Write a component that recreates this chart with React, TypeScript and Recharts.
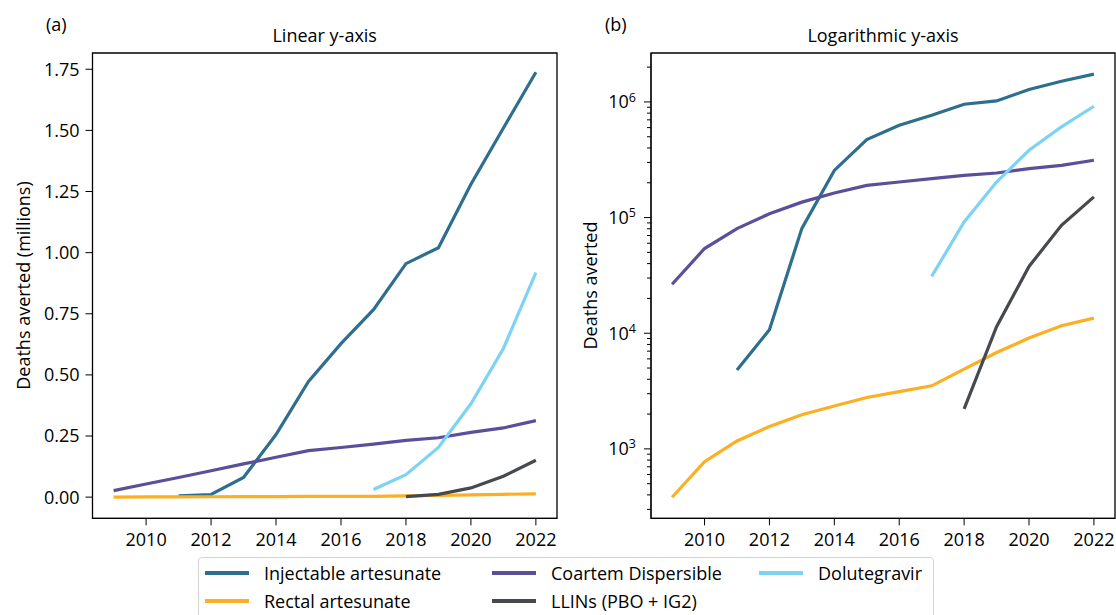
import React from "react";
import { LineChart, Line, XAxis, YAxis, ReferenceArea } from "recharts";

const years = [2009, 2010, 2011, 2012, 2013, 2014, 2015, 2016, 2017, 2018, 2019, 2020, 2021, 2022];

// deaths averted per year
const injectableArtesunate = [null, null, 4820, 10700, 80700, 256000, 473000, 628000, 767000, 955000, 1020000, 1280000, 1510000, 1738000];
const rectalArtesunate = [382, 776, 1170, 1560, 1970, 2350, 2780, 3130, 3510, 4890, 6810, 9080, 11600, 13500];
const coartemDispersible = [26500, 54000, 80300, 108000, 136000, 163000, 190000, 203000, 217000, 232000, 243000, 265000, 283000, 313000];
const llins = [null, null, null, null, null, null, null, null, null, 2220, 11400, 37800, 85700, 151000];
const dolutegravir = [null, null, null, null, null, null, null, null, 31000, 91600, 203000, 382000, 608000, 918000];

const xTicks = [2010, 2012, 2014, 2016, 2018, 2020, 2022];
const linearTicks = [0, 0.25, 0.5, 0.75, 1.0, 1.25, 1.5, 1.75];
const logMajorTicks = [1e3, 1e4, 1e5, 1e6];
const logMinorSteps = [2, 3, 4, 5, 6, 7, 8, 9];
const logDecades = [1e2, 1e3, 1e4, 1e5, 1e6];

const X_DOMAIN: [number, number] = [2008.35, 2022.65];
const LIN_DOMAIN: [number, number] = [-0.0865, 1.8165];
const LOG_DOMAIN: [number, number] = [251, 2650000];

const FONT = "'Open Sans', Lato, sans-serif";
const FS = 18;

const series = [
  { key: "inj", name: "Injectable artesunate", values: injectableArtesunate, color: "#2E6E8E", col: 0, row: 0 },
  { key: "rect", name: "Rectal artesunate", values: rectalArtesunate, color: "#FCAF22", col: 0, row: 1 },
  { key: "coartem", name: "Coartem Dispersible", values: coartemDispersible, color: "#5A5099", col: 1, row: 0 },
  { key: "llin", name: "LLINs (PBO + IG2)", values: llins, color: "#464A4F", col: 1, row: 1 },
  { key: "dtg", name: "Dolutegravir", values: dolutegravir, color: "#7DD3F4", col: 2, row: 0 },
];

const logRows = years.map((year, i) => {
  const row: Record<string, number | null> = { year };
  series.forEach((s) => (row[s.key] = s.values[i]));
  return row;
});

const linRows = years.map((year, i) => {
  const row: Record<string, number | null> = { year };
  series.forEach((s) => (row[s.key] = s.values[i] == null ? null : (s.values[i] as number) / 1e6));
  return row;
});

const logTicks = [
  ...logMajorTicks,
  ...logDecades.flatMap((d) => logMinorSteps.map((m) => m * d)),
]
  .filter((v) => v >= LOG_DOMAIN[0] && v <= LOG_DOMAIN[1])
  .sort((a, b) => a - b);

const RIGHT_Y_WIDTH = 91;

function LogTick(props: any) {
  const { y, payload } = props;
  const v = payload.value;
  const major = logMajorTicks.includes(v);
  const edge = RIGHT_Y_WIDTH;
  const exp = Math.round(Math.log10(v));
  return (
    <g>
      <line x1={edge - (major ? 7 : 4)} x2={edge} y1={y} y2={y} stroke="#000" strokeWidth={1} />
      {major && (
        <text x={edge - 15} y={y} dy="0.36em" textAnchor="end" fill="#000" fontSize={FS} fontFamily={FONT}>
          10
          <tspan dy="-0.55em" fontSize={12.5}>{exp}</tspan>
        </text>
      )}
    </g>
  );
}

function Panel({ log }: { log: boolean }) {
  const domain = log ? LOG_DOMAIN : LIN_DOMAIN;
  return (
    <LineChart
      width={log ? 556 : 570}
      height={555}
      data={log ? logRows : linRows}
      margin={{ top: 53, right: log ? 1 : 13, bottom: 0, left: 0 }}
    >
      <XAxis
        dataKey="year"
        type="number"
        domain={X_DOMAIN}
        ticks={xTicks}
        interval={0}
        allowDataOverflow
        height={36.7}
        tickSize={7}
        tickMargin={8}
        stroke="#000"
        tick={{ fill: "#000", fontSize: FS, fontFamily: FONT }}
      />
      {log ? (
        <YAxis
          scale="log"
          type="number"
          domain={domain}
          allowDataOverflow
          ticks={logTicks}
          interval={0}
          width={RIGHT_Y_WIDTH}
          tickLine={false}
          stroke="#000"
          tick={<LogTick />}
        />
      ) : (
        <YAxis
          type="number"
          domain={domain}
          allowDataOverflow
          ticks={linearTicks}
          interval={0}
          width={92.5}
          tickSize={7}
          tickMargin={6}
          stroke="#000"
          tickFormatter={(v: number) => v.toFixed(2)}
          tick={{ fill: "#000", fontSize: FS, fontFamily: FONT }}
        />
      )}
      {series.map((s) => (
        <Line
          key={s.key}
          dataKey={s.key}
          name={s.name}
          stroke={s.color}
          strokeWidth={3.2}
          dot={false}
          connectNulls={false}
          isAnimationActive={false}
        />
      ))}
      <ReferenceArea
        x1={X_DOMAIN[0]}
        x2={X_DOMAIN[1]}
        y1={domain[0]}
        y2={domain[1]}
        fill="none"
        stroke="#000"
        strokeWidth={1.3}
        ifOverflow="visible"
      />
    </LineChart>
  );
}

const legendCols = [6, 293, 560];
const legendRows = [15, 43];

export default function App() {
  return (
    <div
      style={{
        position: "absolute",
        left: 0,
        top: 0,
        width: 1116,
        height: 615,
        background: "#fff",
        overflow: "hidden",
        fontFamily: FONT,
      }}
    >
      <div style={{ position: "absolute", left: 0, top: 0 }}>
        <Panel log={false} />
      </div>
      <div style={{ position: "absolute", left: 560, top: 0 }}>
        <Panel log />
      </div>
      <svg
        width={1116}
        height={615}
        style={{ position: "absolute", left: 0, top: 0, pointerEvents: "none" }}
        fontFamily={FONT}
        fontSize={FS}
      >
        <text x={46} y={31} fill="#000">(a)</text>
        <text x={605} y={31} fill="#000">(b)</text>
        <text x={324.7} y={42} textAnchor="middle" fill="#000">Linear y-axis</text>
        <text x={883} y={42} textAnchor="middle" fill="#000">Logarithmic y-axis</text>
        <text
          x={0}
          y={0}
          transform="translate(23 285.5) rotate(-90)"
          textAnchor="middle"
          dominantBaseline="central"
          fill="#000"
        >
          Deaths averted (millions)
        </text>
        <text
          x={0}
          y={0}
          transform="translate(590 285.5) rotate(-90)"
          textAnchor="middle"
          dominantBaseline="central"
          fill="#000"
        >
          Deaths averted
        </text>
      </svg>
      <div
        style={{
          position: "absolute",
          left: 198,
          top: 557,
          width: 734,
          height: 66,
          border: "1px solid #d4d4d4",
          borderRadius: 4,
          background: "#fff",
        }}
      >
        {series.map((s) => (
          <div
            key={s.key}
            style={{
              position: "absolute",
              left: legendCols[s.col],
              top: legendRows[s.row] - 12,
              height: 24,
              display: "flex",
              alignItems: "center",
              whiteSpace: "nowrap",
              fontSize: FS,
              color: "#000",
            }}
          >
            <span style={{ display: "inline-block", width: 44, height: 3.5, background: s.color, marginRight: 15 }} />
            <span>{s.name}</span>
          </div>
        ))}
      </div>
    </div>
  );
}
